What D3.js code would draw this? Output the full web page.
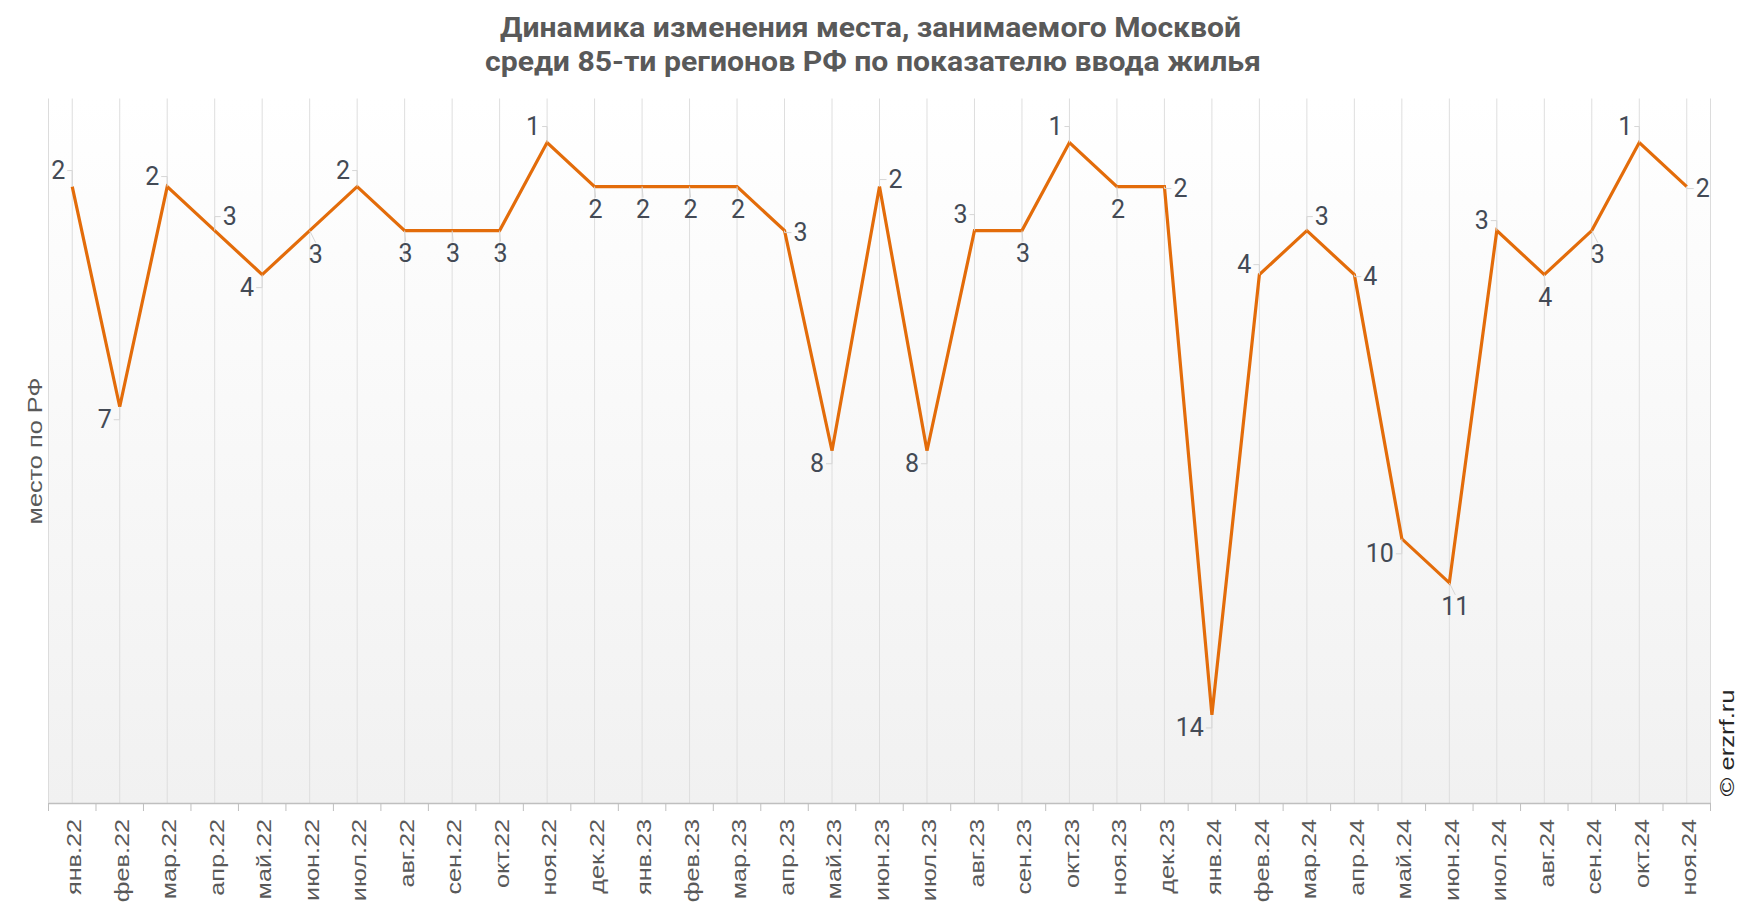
<!DOCTYPE html>
<html>
<head>
<meta charset="utf-8">
<script src="https://cdn.jsdelivr.net/npm/d3@7/dist/d3.min.js"></script>
<style>
  html, body { margin: 0; padding: 0; background: #ffffff; }
  svg { display: block; }
</style>
</head>
<body>
<svg id="chart" width="1741" height="912"></svg>
<script>
// ---- data ----
const months = [
  "янв.22","фев.22","мар.22","апр.22","май.22","июн.22","июл.22","авг.22","сен.22","окт.22","ноя.22","дек.22",
  "янв.23","фев.23","мар.23","апр.23","май.23","июн.23","июл.23","авг.23","сен.23","окт.23","ноя.23","дек.23",
  "янв.24","фев.24","мар.24","апр.24","май.24","июн.24","июл.24","авг.24","сен.24","окт.24","ноя.24"
];
const ranks = [
  2, 7, 2, 3, 4, 3, 2, 3, 3, 3, 1, 2,
  2, 2, 2, 3, 8, 2, 8, 3, 3, 1, 2, 2,
  14, 4, 3, 4, 10, 11, 3, 4, 3, 1, 2
];
// label placement around each point
const labelPos = [
  "tl","bl","lu","tr","bl","br","tl","b","b","b","tl","b",
  "b","b","b","r","bl","ru","bl","tl","b","tl","b","r",
  "bl","lu","tr","r","bl2","br","lu","b","br","tl","r"
];
const titleLines = [
  "Динамика изменения места, занимаемого Москвой",
  "среди 85-ти регионов РФ по показателю ввода жилья"
];
const yAxisTitle = "место по РФ";
const watermark = "© erzrf.ru";
const yDomain = [0, 16];

// ---- layout ----
const W = 1741, H = 912;
const plot = { left: 48.5, right: 1710.5, top: 98.5, bottom: 803 };

const svg = d3.select("#chart");

const defs = svg.append("defs");
const grad = defs.append("linearGradient")
  .attr("id", "bg").attr("x1", 0).attr("y1", 0).attr("x2", 0).attr("y2", 1);
grad.append("stop").attr("offset", "0%").attr("stop-color", "#ffffff");
grad.append("stop").attr("offset", "100%").attr("stop-color", "#f1f1f1");

svg.append("rect")
  .attr("x", plot.left).attr("y", plot.top)
  .attr("width", plot.right - plot.left).attr("height", plot.bottom - plot.top)
  .attr("fill", "url(#bg)");

const x = d3.scaleBand().domain(months).range([plot.left, plot.right]).padding(0);
const y = d3.scaleLinear().domain(yDomain).range([plot.top, plot.bottom]);
const cx = m => x(m) + x.bandwidth() / 2;

// vertical gridlines at categories
svg.append("g").selectAll("line").data(months).join("line")
  .attr("x1", d => cx(d)).attr("x2", d => cx(d))
  .attr("y1", plot.top).attr("y2", plot.bottom)
  .attr("stroke", "#dedede").attr("stroke-width", 1);

// plot frame left/right
svg.append("line").attr("x1", plot.left).attr("x2", plot.left)
  .attr("y1", plot.top).attr("y2", plot.bottom).attr("stroke", "#dcdcdc");
svg.append("line").attr("x1", plot.right).attr("x2", plot.right)
  .attr("y1", plot.top).attr("y2", plot.bottom).attr("stroke", "#dcdcdc");

// x axis
const xAxis = d3.axisBottom(x).tickSize(0).tickPadding(0);
const gx = svg.append("g").attr("transform", `translate(0,${plot.bottom})`).call(xAxis);
gx.select(".domain").attr("stroke", "#bfbfbf").attr("stroke-width", 1.5);
gx.selectAll(".tick line").remove();
gx.selectAll(".tick text")
  .attr("font-family", "'Liberation Sans', Arial, sans-serif")
  .attr("font-size", 21)
  .attr("fill", "#595959")
  .attr("text-anchor", "end")
  .attr("dominant-baseline", "central")
  .attr("dy", null)
  .attr("y", null)
  .attr("transform", "translate(2,16) rotate(-90) scale(1.2,1)");

// boundary ticks
const bounds = months.map(m => x(m)).concat([plot.right]);
svg.append("g").selectAll("line").data(bounds).join("line")
  .attr("x1", d => d).attr("x2", d => d)
  .attr("y1", plot.bottom).attr("y2", plot.bottom + 8)
  .attr("stroke", "#bfbfbf").attr("stroke-width", 1);

// line
const line = d3.line().x((d, i) => cx(months[i])).y(d => y(d));
svg.append("path").datum(ranks)
  .attr("d", line)
  .attr("fill", "none")
  .attr("stroke", "#e36c0a")
  .attr("stroke-width", 3.2)
  .attr("stroke-linejoin", "miter");

// labels
const place = {
  tl:  { a: "end",    dx: -7,  dy: -16 },
  lu:  { a: "end",    dx: -8,  dy: -10 },
  l:   { a: "end",    dx: -8,  dy: -5 },
  bl:  { a: "end",    dx: -8,  dy: 13 },
  bl2: { a: "end",    dx: -8,  dy: 15 },
  b:   { a: "middle", dx: 1,   dy: 23 },
  br:  { a: "middle", dx: 6,   dy: 24 },
  r:   { a: "start",  dx: 9,   dy: 2 },
  tr:  { a: "start",  dx: 8,   dy: -14 },
  ru:  { a: "start",  dx: 9,   dy: -7 }
};
const lg = svg.append("g");
ranks.forEach((v, i) => {
  const px = cx(months[i]), py = y(v);
  const p = place[labelPos[i]];
  const lx = px + p.dx, ly = py + p.dy;
  let path;
  if (p.a === "end") path = `M${px},${py}V${ly}H${lx + 2}`;
  else if (p.a === "start") path = `M${px},${py}V${ly}H${lx - 2}`;
  else path = `M${px},${py}L${lx},${ly - 12}`;
  lg.append("path").attr("d", path).attr("fill", "none")
    .attr("stroke", "#d6d6d6").attr("stroke-width", 1);
  lg.append("text")
    .attr("x", lx).attr("y", ly)
    .attr("text-anchor", p.a)
    .attr("dominant-baseline", "central")
    .attr("font-family", "Roboto, sans-serif")
    .attr("font-size", 25)
    .attr("fill", "#434a55")
    .text(v);
});

// title
const tg = svg.append("g").attr("font-family", "Roboto, sans-serif")
  .attr("font-weight", "bold").attr("font-size", 28).attr("fill", "#595959")
  .attr("text-anchor", "middle");
const titleWidths = [741, 776];
const titleBase = [37, 71];
titleLines.forEach((t, i) => {
  tg.append("text").attr("x", i === 0 ? 870.5 : 873).attr("y", titleBase[i])
    .attr("textLength", titleWidths[i]).attr("lengthAdjust", "spacingAndGlyphs")
    .text(t);
});

// y axis title
svg.append("text")
  .attr("transform", `translate(34,451) rotate(-90)`)
  .attr("text-anchor", "middle").attr("dominant-baseline", "central")
  .attr("font-family", "'Liberation Sans', Arial, sans-serif")
  .attr("font-size", 21).attr("fill", "#595959")
  .attr("textLength", 147).attr("lengthAdjust", "spacingAndGlyphs")
  .text(yAxisTitle);

// watermark
svg.append("text")
  .attr("transform", `translate(1726,743) rotate(-90)`)
  .attr("text-anchor", "middle").attr("dominant-baseline", "central")
  .attr("font-family", "'Liberation Sans', Arial, sans-serif")
  .attr("font-size", 21).attr("fill", "#262626")
  .attr("textLength", 107).attr("lengthAdjust", "spacingAndGlyphs")
  .text(watermark);
</script>
</body>
</html>
